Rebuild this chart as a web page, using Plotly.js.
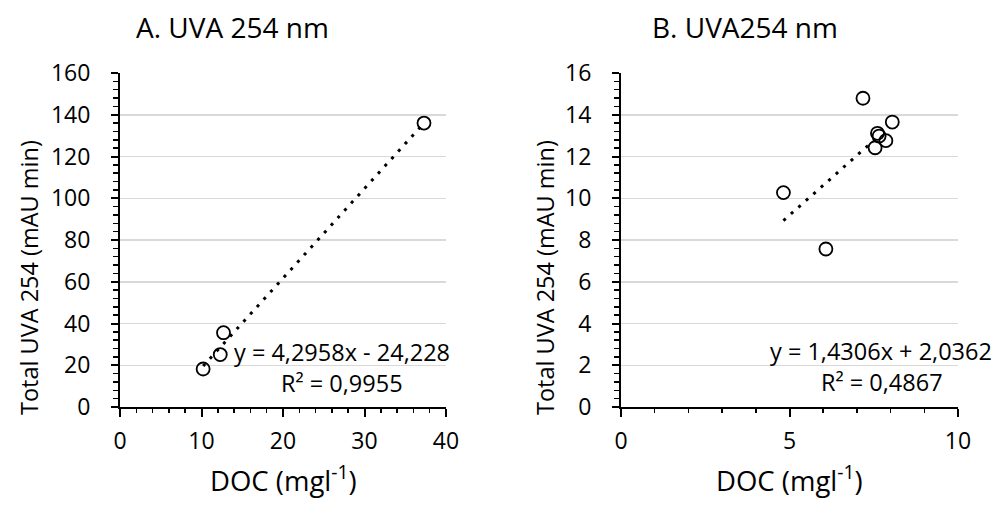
<!DOCTYPE html>
<html>
<head>
<meta charset="utf-8">
<script src="https://cdn.plot.ly/plotly-3.0.1.min.js"></script>
<style>
  html, body { margin: 0; padding: 0; background: #fff; }
  #chart { width: 998px; height: 505px; }
</style>
</head>
<body>
<div id="chart"></div>
<script>
// Panel A: UVA 254 nm vs DOC
const docA = [10.2, 12.3, 12.7, 37.3];
const uvaA = [18.2, 25.1, 35.6, 136.0];
const slopeA = 4.2958, interceptA = -24.228, r2A = '0,9955';

// Panel B: UVA254 nm vs DOC
const docB = [4.82, 6.08, 7.18, 7.54, 7.61, 7.66, 7.86, 8.05];
const uvaB = [10.27, 7.57, 14.79, 12.42, 13.11, 12.98, 12.76, 13.65];
const slopeB = 1.4306, interceptB = 2.0362, r2B = '0,4867';
const trendSpanB = [4.82, 7.62]; // visible extent of the trend line in the picture

const titles = ['A. UVA 254 nm', 'B. UVA254 nm'];
const yTitle = 'Total UVA 254 (mAU min)';
const xTitle = 'DOC (mgl<sup>-1</sup>)';

const FONT = '"Open Sans", Lato, sans-serif';
const W = 998, H = 505;
const px = x => x / W;
const py = y => 1 - y / H;

// Excel-style number formatting with a decimal comma
const fmt = v => String(v).replace('.', ',');
const eqText = (m, b) => 'y = ' + fmt(m) + 'x ' + (b < 0 ? '- ' : '+ ') + fmt(Math.abs(b));

const pointTrace = (x, y, xa, ya) => ({
  x, y, xaxis: xa, yaxis: ya, type: 'scatter', mode: 'markers',
  marker: { symbol: 'circle-open', size: 13, color: '#000', line: { width: 1.8, color: '#000' } },
  hoverinfo: 'x+y'
});
const trendTrace = (span, m, b, xa, ya) => ({
  x: span, y: span.map(v => m * v + b), xaxis: xa, yaxis: ya,
  type: 'scatter', mode: 'lines',
  line: { color: '#000', width: 3, dash: '3px,7px' },
  hoverinfo: 'skip'
});

const traces = [
  pointTrace(docA, uvaA, 'x', 'y'),
  trendTrace([Math.min(...docA), Math.max(...docA)], slopeA, interceptA, 'x', 'y'),
  pointTrace(docB, uvaB, 'x2', 'y2'),
  trendTrace(trendSpanB, slopeB, interceptB, 'x2', 'y2'),
];

const xBase = (domain, range, dtick, minor) => ({
  domain, range, dtick, tick0: 0, fixedrange: true,
  ticks: 'outside', ticklen: 8, tickwidth: 2, tickcolor: '#000',
  minor: { dtick: minor, ticks: 'outside', ticklen: 4, tickwidth: 1.5, tickcolor: '#000', showgrid: false },
  showline: true, linewidth: 2, linecolor: '#000',
  showgrid: false, zeroline: false, ticklabelstandoff: 4,
  tickfont: { family: FONT, size: 23, color: '#000' }
});
const yBase = (range, dtick, minor) => ({
  domain: [py(407), py(73)], range, dtick, tick0: 0, fixedrange: true,
  ticks: 'outside', ticklen: 7, tickwidth: 2, tickcolor: '#000',
  minor: { dtick: minor, ticks: 'outside', ticklen: 5, tickwidth: 1.5, tickcolor: '#000', showgrid: false },
  showline: true, linewidth: 2, linecolor: '#000',
  showgrid: true, gridcolor: '#d9d9d9', gridwidth: 1.5, zeroline: false, ticklabelstandoff: 16,
  tickfont: { family: FONT, size: 23, color: '#000' }
});

const ann = (text, x, y, size, extra) => Object.assign({
  text, x: px(x), y: py(y), xref: 'paper', yref: 'paper',
  xanchor: 'center', yanchor: 'middle', showarrow: false,
  font: { family: FONT, size, color: '#000' }
}, extra || {});

const annotations = [
  ann(titles[0], 232, 27, 28),
  ann(titles[1], 745, 27, 28),
  ann(yTitle, 29, 278, 23.5, { textangle: -90 }),
  ann(yTitle, 545, 278, 23.5, { textangle: -90 }),
  ann(xTitle, 283, 478, 27.5),
  ann(xTitle, 789, 478, 27.5),
  ann(eqText(slopeA, interceptA), 342, 352, 23.5),
  ann('R² = ' + r2A, 342, 383, 23.5),
  ann(eqText(slopeB, interceptB), 881, 351, 23.5),
  ann('R² = ' + r2B, 882, 382, 23.5),
];

const layout = {
  width: W, height: H,
  margin: { l: 0, r: 0, t: 0, b: 0 },
  paper_bgcolor: '#fff', plot_bgcolor: '#fff',
  showlegend: false,
  xaxis: xBase([px(120), px(446)], [0, 40], 10, 2),
  yaxis: yBase([0, 160], 20, 4),
  xaxis2: Object.assign(xBase([px(621), px(958)], [0, 10], 5, 1), { anchor: 'y2' }),
  yaxis2: Object.assign(yBase([0, 16], 2, 0.4), { anchor: 'x2' }),
  annotations
};

Plotly.newPlot('chart', traces, layout, { displayModeBar: false, staticPlot: true });
</script>
</body>
</html>
